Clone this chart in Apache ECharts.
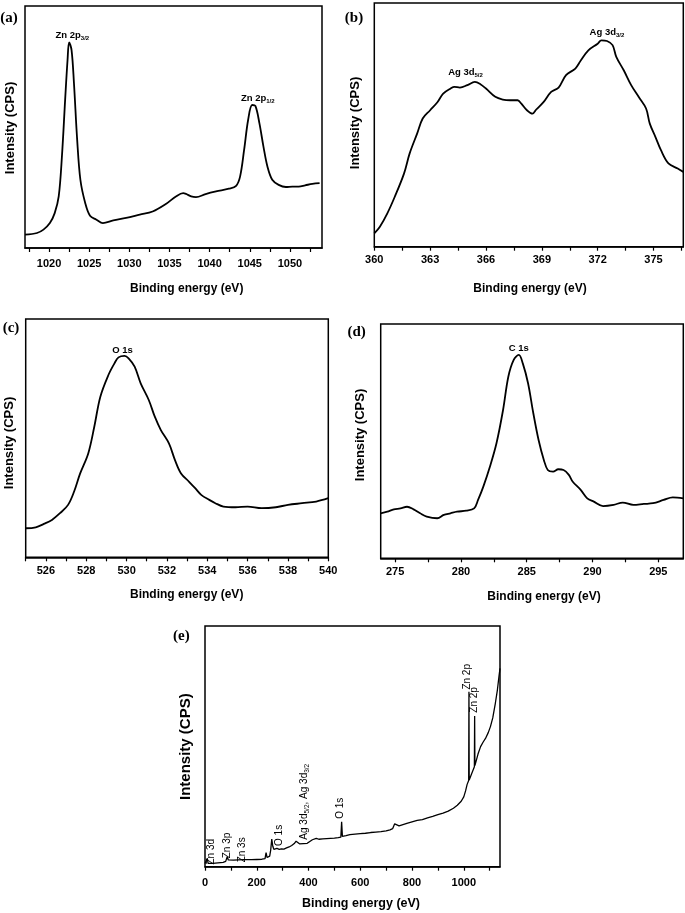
<!DOCTYPE html>
<html><head><meta charset="utf-8">
<script src="https://cdn.jsdelivr.net/npm/echarts@6/dist/echarts.min.js"></script>
<style>html,body{margin:0;padding:0;background:#fff}#c{width:685px;height:913px}</style>
</head><body><div id="c"></div>
<script>
// ---------- data (binding energy in eV, intensity in arbitrary units 0-100 of plot height) ----------
const aEnergy = [1017.0,1018.5,1019.3,1020.1,1020.7,1021.2,1021.6,1022.0,1022.3,1022.5,1022.8,1023.1,1023.5,1023.9,1024.5,1025.1,1025.9,1026.7,1028.0,1029.6,1031.3,1032.9,1034.6,1035.8,1036.7,1037.1,1037.7,1038.3,1039.5,1040.8,1042.4,1043.3,1043.8,1044.3,1044.8,1045.3,1045.7,1046.2,1046.7,1047.2,1047.8,1048.6,1049.5,1050.3,1051.1,1051.9,1052.8,1053.7];
const aIntensity = [5.5,6.2,7.6,10.3,14.4,21.3,37.8,61.2,77.7,85.0,81.8,68.1,44.7,28.2,18.6,13.3,11.7,10.3,11.4,12.4,13.8,15.1,18.3,21.3,22.7,22.3,21.3,21.0,22.3,23.4,24.5,25.7,29.6,40.6,53.0,59.1,58.7,51.6,42.0,33.7,28.2,26.1,25.2,25.4,25.4,25.9,26.5,26.8];
const aTickLabels = [1020,1025,1030,1035,1040,1045,1050];
const aTicks = [1017.5,1020,1022.5,1025,1027.5,1030,1032.5,1035,1037.5,1040,1042.5,1045,1047.5,1050,1052.5];

const bEnergy = [360.0,360.3,360.7,361.1,361.6,361.9,362.3,362.6,363.0,363.4,363.7,364.1,364.3,364.6,365.0,365.4,365.7,366.0,366.5,366.9,367.3,367.7,367.9,368.2,368.5,368.7,369.1,369.5,369.9,370.3,370.8,371.1,371.5,372.0,372.2,372.5,372.8,373.0,373.4,373.8,374.2,374.6,374.8,375.1,375.4,375.8,376.3,376.6];
const bIntensity = [5.5,8.2,13.7,20.5,30.1,38.3,46.4,52.6,56.0,59.4,62.8,64.9,65.6,65.3,66.3,67.6,66.7,64.9,61.5,60.4,60.1,60.1,58.7,56.0,54.6,56.3,59.4,63.5,65.3,70.4,73.1,76.5,80.6,83.3,84.7,84.4,82.7,77.9,72.4,66.3,61.5,56.7,50.5,45.1,39.6,34.2,32.1,30.7];
const bTickLabels = [360,363,366,369,372,375];
const bTicks = [360,361.5,363,364.5,366,367.5,369,370.5,372,373.5,375,376.5];

const cEnergy = [525.0,525.5,525.9,526.3,526.7,527.1,527.4,527.7,528.1,528.4,528.7,529.1,529.4,529.6,529.9,530.1,530.4,530.7,531.1,531.4,531.7,532.1,532.4,532.7,533.1,533.4,533.7,534.1,534.4,534.8,535.4,536.0,536.7,537.4,538.0,538.7,539.4,540.0];
const cIntensity = [12.2,12.6,14.0,15.7,18.5,22.0,27.6,35.2,43.6,54.8,67.4,76.5,81.4,83.9,84.5,83.5,80.0,73.0,66.0,59.0,53.4,47.8,40.8,35.2,31.7,29.0,26.2,24.1,22.7,21.3,21.0,21.3,20.6,21.0,22.0,22.7,23.4,24.8];
const cTickLabels = [526,528,530,532,534,536,538,540];
const cTicks = [525,526,527,528,529,530,531,532,533,534,535,536,537,538,539,540];

const dEnergy = [273.9,274.4,274.9,275.4,275.9,276.4,276.9,277.4,278.2,278.7,279.2,279.7,280.4,281.0,281.3,281.7,282.2,282.7,283.2,283.6,284.0,284.4,284.7,285.1,285.5,285.9,286.3,286.6,287.0,287.4,287.8,288.2,288.5,289.1,289.6,290.1,290.8,291.6,292.3,293.1,293.9,294.6,295.4,296.1,296.9];
const dIntensity = [19.2,19.9,20.9,21.3,22.0,20.9,19.2,17.8,17.1,18.5,19.2,19.9,20.3,21.3,24.9,30.6,39.1,49.1,63.3,77.5,84.6,86.8,83.2,74.7,61.9,50.5,42.0,37.7,37.0,38.0,37.7,35.6,32.7,29.2,25.6,24.2,22.3,22.8,23.8,22.8,23.2,23.5,24.9,26.0,25.6];
const dTickLabels = [275,280,285,290,295];
const dTicks = [275,277.5,280,282.5,285,287.5,290,292.5,295];

const eEnergy = [0,5,9,12,30,50,70,80,86,90,110,130,150,155,159,180,200,220,232,236,240,250,254,258,262,266,272,278,283,287,295,305,315,325,335,345,352,358,365,380,395,405,415,422,430,440,455,470,485,500,515,525,528,531,545,560,580,600,620,640,660,680,700,715,725,733,740,750,765,780,800,820,840,860,880,900,920,940,960,975,990,1000,1007,1013,1019,1020,1021,1030,1041,1042,1043,1055,1065,1075,1084,1095,1103,1112,1122,1130,1136,1140];
const eIntensity = [1.3,1.3,3.5,1.4,1.4,1.6,1.8,2.2,4.2,2.8,2.7,2.8,2.9,3.6,2.9,2.9,3.0,3.1,3.4,5.8,3.8,4.4,7.0,11.5,8.5,7.2,7.0,7.6,8.4,7.2,7.4,7.3,7.8,8.2,8.8,9.6,10.6,9.9,9.5,9.6,9.7,10.5,11.2,11.9,11.8,11.4,11.6,11.7,11.8,11.9,12.1,12.3,18.7,12.6,12.9,13.3,13.5,13.7,13.9,14.2,14.4,14.6,14.9,15.3,15.8,17.8,17.5,17.0,17.5,18.0,18.6,19.2,19.6,20.3,20.9,21.6,22.3,23.1,24.3,25.5,27.2,29.0,31.5,34.2,35.8,72.7,36.0,38.5,41.5,62.6,42.0,46.8,49.9,51.8,53.3,55.8,58.2,61.8,67.9,73.5,79.0,82.4];
const eTickLabels = [0,200,400,600,800,1000];
const eTicks = [0,100,200,300,400,500,600,700,800,900,1000,1100];

// peak annotations: [energy, intensity, text]
const aPeaks = [[1022.9, 88.0, '{m|Zn 2p}{s|3/2}'], [1046.0, 61.9, '{m|Zn 2p}{s|1/2}']];
const bPeaks = [[364.9, 71.7, '{m|Ag 3d}{s|5/2}'], [372.5, 88.1, '{m|Ag 3d}{s|3/2}']];
const cPeaks = [[529.8, 87.0, '{m|O 1s}']];
const dPeaks = [[284.4, 89.6, '{m|C 1s}']];
const ePeaks = [[24, 6.2, '{r|Zn 3d}'], [86, 8.8, '{r|Zn 3p}'], [143, 7.0, '{r|Zn 3s}'], [287, 13.0, '{r|O 1s}'], [385, 27.0, '{r|Ag 3d}{rs|5/2}{r|, Ag 3d}{rs|3/2}'], [523, 24.3, '{r|O 1s}'], [1014, 78.9, '{r|Zn 2p}'], [1040, 69.3, '{r|Zn 2p}']];

// ---------- chart ----------
const FONT = '"Liberation Sans", Arial, Helvetica, sans-serif';
const SERIF = '"Liberation Serif", "Times New Roman", serif';
const zip = (xs, ys) => xs.map((x, i) => [x, ys[i]]);

const panels = [
  {x: aEnergy, y: aIntensity, min: 1017, max: 1054, labels: aTickLabels, ticks: aTicks, peaks: aPeaks, grid: {left: 25, top: 6, width: 297, height: 242}, margin: 10, smooth: 0.35, lw: 1.8},
  {x: bEnergy, y: bIntensity, min: 360, max: 376.6, labels: bTickLabels, ticks: bTicks, peaks: bPeaks, grid: {left: 374.3, top: 3, width: 309, height: 243.7}, margin: 8, smooth: 0.35, lw: 1.8},
  {x: cEnergy, y: cIntensity, min: 525, max: 540, labels: cTickLabels, ticks: cTicks, peaks: cPeaks, grid: {left: 25.7, top: 319, width: 302.6, height: 238.3}, margin: 8, smooth: 0.35, lw: 1.8},
  {x: dEnergy, y: dIntensity, min: 273.9, max: 296.9, labels: dTickLabels, ticks: dTicks, peaks: dPeaks, grid: {left: 380.7, top: 324, width: 302.6, height: 234.3}, margin: 8, smooth: 0.35, lw: 1.8},
  {x: eEnergy, y: eIntensity, min: 0, max: 1140, labels: eTickLabels, ticks: eTicks, peaks: ePeaks, grid: {left: 205, top: 626, width: 295, height: 240.7}, margin: 11, smooth: false, lw: 1.3, rotate: true}
];

const rich = {
  m: {fontFamily: FONT, fontWeight: 'bold', fontSize: 9.5, color: '#000', lineHeight: 12},
  s: {fontFamily: FONT, fontWeight: 'bold', fontSize: 6, color: '#000', lineHeight: 7, verticalAlign: 'bottom'},
  r: {fontFamily: FONT, fontSize: 10, color: '#000', lineHeight: 12},
  rs: {fontFamily: FONT, fontSize: 6.5, color: '#000', lineHeight: 7, verticalAlign: 'bottom'}
};

const option = {
  animation: false,
  backgroundColor: '#fff',
  grid: panels.map(p => Object.assign({show: true, borderColor: '#000', borderWidth: 1.5, backgroundColor: 'rgba(0,0,0,0)', containLabel: false, outerBoundsMode: 'none'}, p.grid)),
  xAxis: panels.map((p, i) => ({
    gridIndex: i, type: 'value', min: p.min, max: p.max,
    axisLine: {show: true, onZero: false, lineStyle: {color: '#000', width: 1.5}},
    axisTick: {show: true, customValues: p.ticks, length: 4, inside: false, lineStyle: {color: '#000', width: 1.2}},
    axisLabel: {show: true, customValues: p.labels, formatter: v => String(v), color: '#000', fontFamily: FONT, fontWeight: 'bold', fontSize: 11, margin: p.margin},
    splitLine: {show: false}
  })),
  yAxis: panels.map((p, i) => ({
    gridIndex: i, type: 'value', min: 0, max: 100,
    axisLine: {show: false}, axisTick: {show: false}, axisLabel: {show: false}, splitLine: {show: false}
  })),
  series: panels.map((p, i) => ({
    type: 'line', xAxisIndex: i, yAxisIndex: i, data: zip(p.x, p.y),
    showSymbol: false, symbol: 'none', smooth: p.smooth, silent: true,
    lineStyle: {color: '#000', width: p.lw},
    markPoint: {
      symbol: 'circle', symbolSize: 1, silent: true, animation: false,
      itemStyle: {color: 'rgba(0,0,0,0)'},
      label: {show: true, position: 'inside', rich: rich},
      data: p.peaks.map(pk => ({coord: [pk[0], pk[1]], label: {formatter: pk[2], rotate: p.rotate ? 90 : 0, align: 'center', verticalAlign: 'middle'}}))
    }
  })),
  graphic: [
    // panel letters
    {type: 'text', x: 9, y: 18.3, style: {text: '(a)', font: 'bold 15px ' + SERIF, fill: '#000', align: 'center', verticalAlign: 'middle'}},
    {type: 'text', x: 354, y: 18.3, style: {text: '(b)', font: 'bold 15px ' + SERIF, fill: '#000', align: 'center', verticalAlign: 'middle'}},
    {type: 'text', x: 11, y: 328.3, style: {text: '(c)', font: 'bold 15px ' + SERIF, fill: '#000', align: 'center', verticalAlign: 'middle'}},
    {type: 'text', x: 356.7, y: 332.5, style: {text: '(d)', font: 'bold 15px ' + SERIF, fill: '#000', align: 'center', verticalAlign: 'middle'}},
    {type: 'text', x: 181.3, y: 636, style: {text: '(e)', font: 'bold 15px ' + SERIF, fill: '#000', align: 'center', verticalAlign: 'middle'}},
    // x-axis names
    {type: 'text', x: 186.7, y: 288.3, style: {text: 'Binding energy (eV)', font: 'bold 12px ' + FONT, fill: '#000', align: 'center', verticalAlign: 'middle'}},
    {type: 'text', x: 530, y: 288.3, style: {text: 'Binding energy (eV)', font: 'bold 12px ' + FONT, fill: '#000', align: 'center', verticalAlign: 'middle'}},
    {type: 'text', x: 186.7, y: 595, style: {text: 'Binding energy (eV)', font: 'bold 12px ' + FONT, fill: '#000', align: 'center', verticalAlign: 'middle'}},
    {type: 'text', x: 544, y: 596.5, style: {text: 'Binding energy (eV)', font: 'bold 12px ' + FONT, fill: '#000', align: 'center', verticalAlign: 'middle'}},
    {type: 'text', x: 361, y: 904, style: {text: 'Binding energy (eV)', font: 'bold 12.5px ' + FONT, fill: '#000', align: 'center', verticalAlign: 'middle'}},
    // y-axis names
    {type: 'text', x: 10, y: 128, rotation: Math.PI / 2, style: {text: 'Intensity (CPS)', font: 'bold 13px ' + FONT, fill: '#000', align: 'center', verticalAlign: 'middle'}},
    {type: 'text', x: 355, y: 123, rotation: Math.PI / 2, style: {text: 'Intensity (CPS)', font: 'bold 13px ' + FONT, fill: '#000', align: 'center', verticalAlign: 'middle'}},
    {type: 'text', x: 9, y: 443, rotation: Math.PI / 2, style: {text: 'Intensity (CPS)', font: 'bold 13px ' + FONT, fill: '#000', align: 'center', verticalAlign: 'middle'}},
    {type: 'text', x: 360, y: 435, rotation: Math.PI / 2, style: {text: 'Intensity (CPS)', font: 'bold 13px ' + FONT, fill: '#000', align: 'center', verticalAlign: 'middle'}},
    {type: 'text', x: 186, y: 746.7, rotation: Math.PI / 2, style: {text: 'Intensity (CPS)', font: 'bold 15px ' + FONT, fill: '#000', align: 'center', verticalAlign: 'middle'}}
  ]
};

const chart = echarts.init(document.getElementById('c'), null, {renderer: 'canvas'});
chart.setOption(option);
</script>
</body></html>
